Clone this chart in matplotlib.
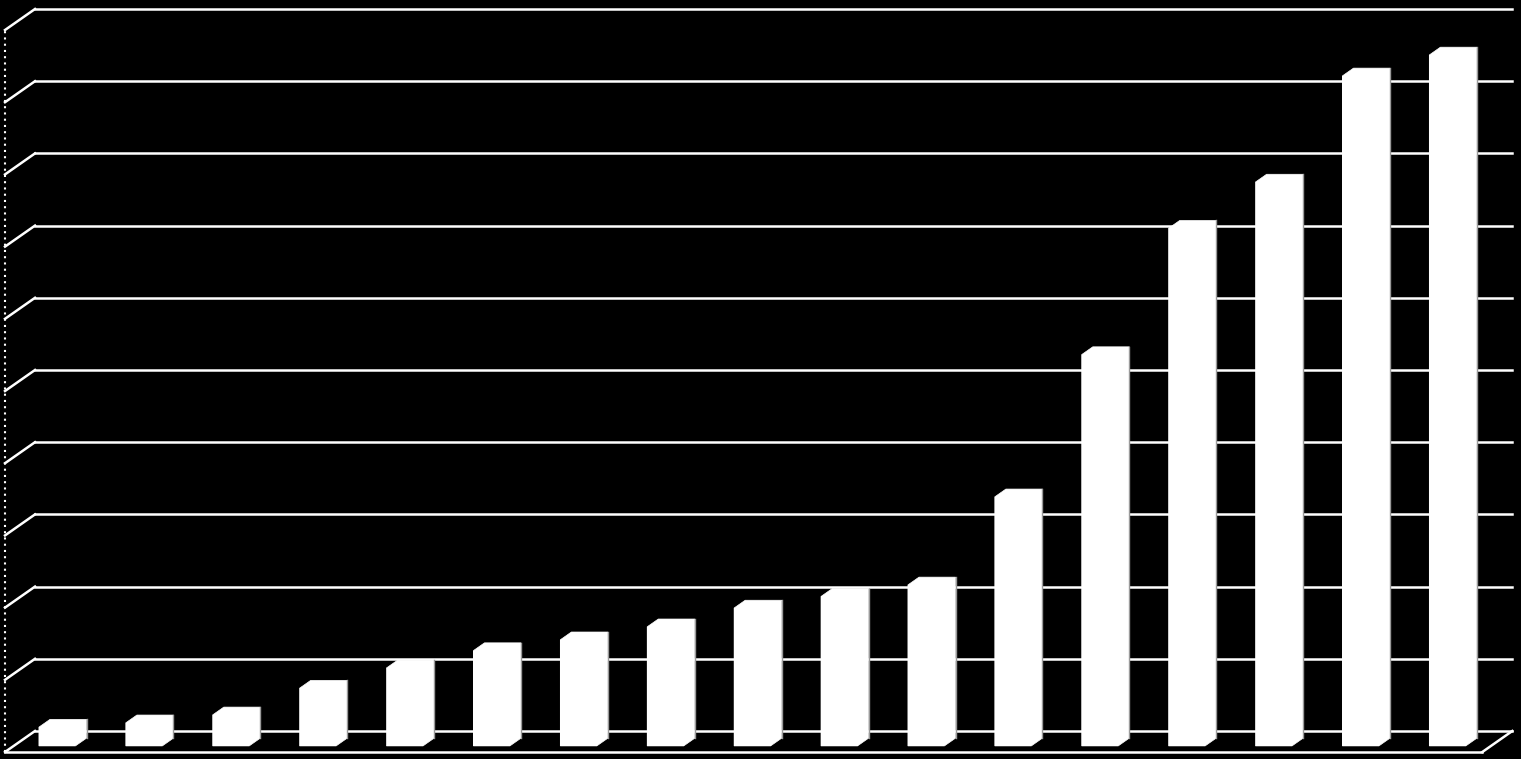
import matplotlib.pyplot as plt
from matplotlib.patches import Polygon
import numpy as np

# bar heights (axis units, grid step = 1)
values = [0.26, 0.32, 0.43, 0.80, 1.08, 1.32, 1.47, 1.65, 1.91, 2.07, 2.23,
          3.45, 5.42, 7.17, 7.81, 9.28, 9.57]
n_grid = 10

# oblique "3d" look: floor depth and bar depth in data units
DEPTH_X, DEPTH_Y = -0.345, -0.291
BAR_POS = 0.71          # bar front face, fraction of depth from back wall
BAR_DEPTH = 0.37        # bar depth, fraction of floor depth
BAR_W = 0.42

fig = plt.figure(figsize=(15.21, 7.59), dpi=100, facecolor="black")
ax = fig.add_axes([0, 0, 1, 1])
ax.set_facecolor("black")
ax.set_xlim(-35 / 86.9, (1521 - 35) / 86.9)
ax.set_ylim(-(759 - 731) / 72.2, 731 / 72.2)
ax.axis("off")

n = len(values)
lw = 1.8
# back wall gridlines + left wall diagonals
for k in range(n_grid + 1):
    ax.plot([0, n], [k, k], color="white", lw=lw, zorder=1)
    ax.plot([0, DEPTH_X], [k, k + DEPTH_Y], color="white", lw=lw, zorder=1)
# floor
ax.plot([DEPTH_X, n + DEPTH_X], [DEPTH_Y, DEPTH_Y], color="white", lw=lw, zorder=1)
ax.plot([n, n + DEPTH_X], [0, DEPTH_Y], color="white", lw=lw, zorder=1)
# left wall dotted edge
ax.plot([DEPTH_X, DEPTH_X], [DEPTH_Y, n_grid + DEPTH_Y], color="white",
        lw=1.5, ls=(0, (1, 2)), zorder=1)

# bars: front face via ax.bar, plus one silhouette polygon for top + side
fx = BAR_POS * DEPTH_X
fy = BAR_POS * DEPTH_Y
bx = -BAR_DEPTH * DEPTH_X
by = -BAR_DEPTH * DEPTH_Y
x = np.arange(n) + 0.5 + fx
ax.bar(x, values, width=BAR_W, bottom=fy, color="white", lw=0, zorder=3)
for xi, v in zip(x, values):
    l, r = xi - BAR_W / 2, xi + BAR_W / 2
    top = fy + v
    ax.add_patch(Polygon([(l, fy), (l, top), (l + bx, top + by), (r + bx, top + by),
                          (r + bx, fy + by), (r, fy)],
                         closed=True, fc="white", ec="white", lw=0.5, zorder=3))
    ax.plot([r + bx, r + bx], [fy + by, top + by], color="#9a9a9a", lw=1, zorder=4)

fig.savefig("out.png", dpi=100, facecolor="black")
